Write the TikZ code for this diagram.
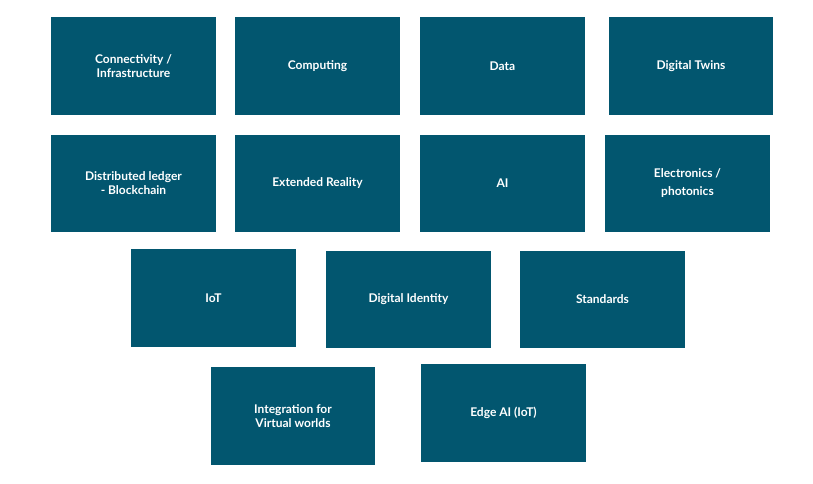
\documentclass[tikz,border=0pt]{standalone}
\usepackage{fontspec}
\setmainfont{Lato}
\definecolor{tile}{HTML}{02566F}
\tikzset{tile/.style={fill=tile,draw=none,text=white,font=\bfseries\fontsize{12}{14}\selectfont,align=center}}
\newcommand{\tileat}[6]{\node[tile,minimum width=#3pt-#1pt,minimum height=#4pt-#2pt,inner sep=0pt] (#5) at ({(#1+#3)/2*1pt},{-(#2+#4)/2*1pt}) {#6};}
\begin{document}
\begin{tikzpicture}[x=1pt,y=1pt]
\useasboundingbox[fill=white] (0,0) rectangle (813,-483);
\tileat{51}{17}{216}{115}{a}{Connectivity /\\Infrastructure}
\tileat{235}{17}{400}{115}{b}{Computing}
\tileat{420}{17}{585}{115}{c}{Data}
\tileat{609}{17}{773}{115}{d}{Digital Twins}
\tileat{51}{135}{216}{232}{e}{Distributed ledger\\- Blockchain}
\tileat{235}{135}{400}{232}{f}{Extended Reality}
\tileat{420}{135}{585}{232}{g}{AI}
\tileat{605}{135}{770}{232}{h}{Electronics /\\[4pt]photonics}
\tileat{131}{249}{296}{347}{i}{IoT}
\tileat{326}{251}{491}{348}{j}{Digital Identity}
\tileat{520}{251}{685}{348}{k}{Standards}
\tileat{211}{367}{375}{465}{l}{Integration for\\Virtual worlds}
\tileat{421}{364}{586}{462}{m}{Edge AI (IoT)}
\end{tikzpicture}
\end{document}
